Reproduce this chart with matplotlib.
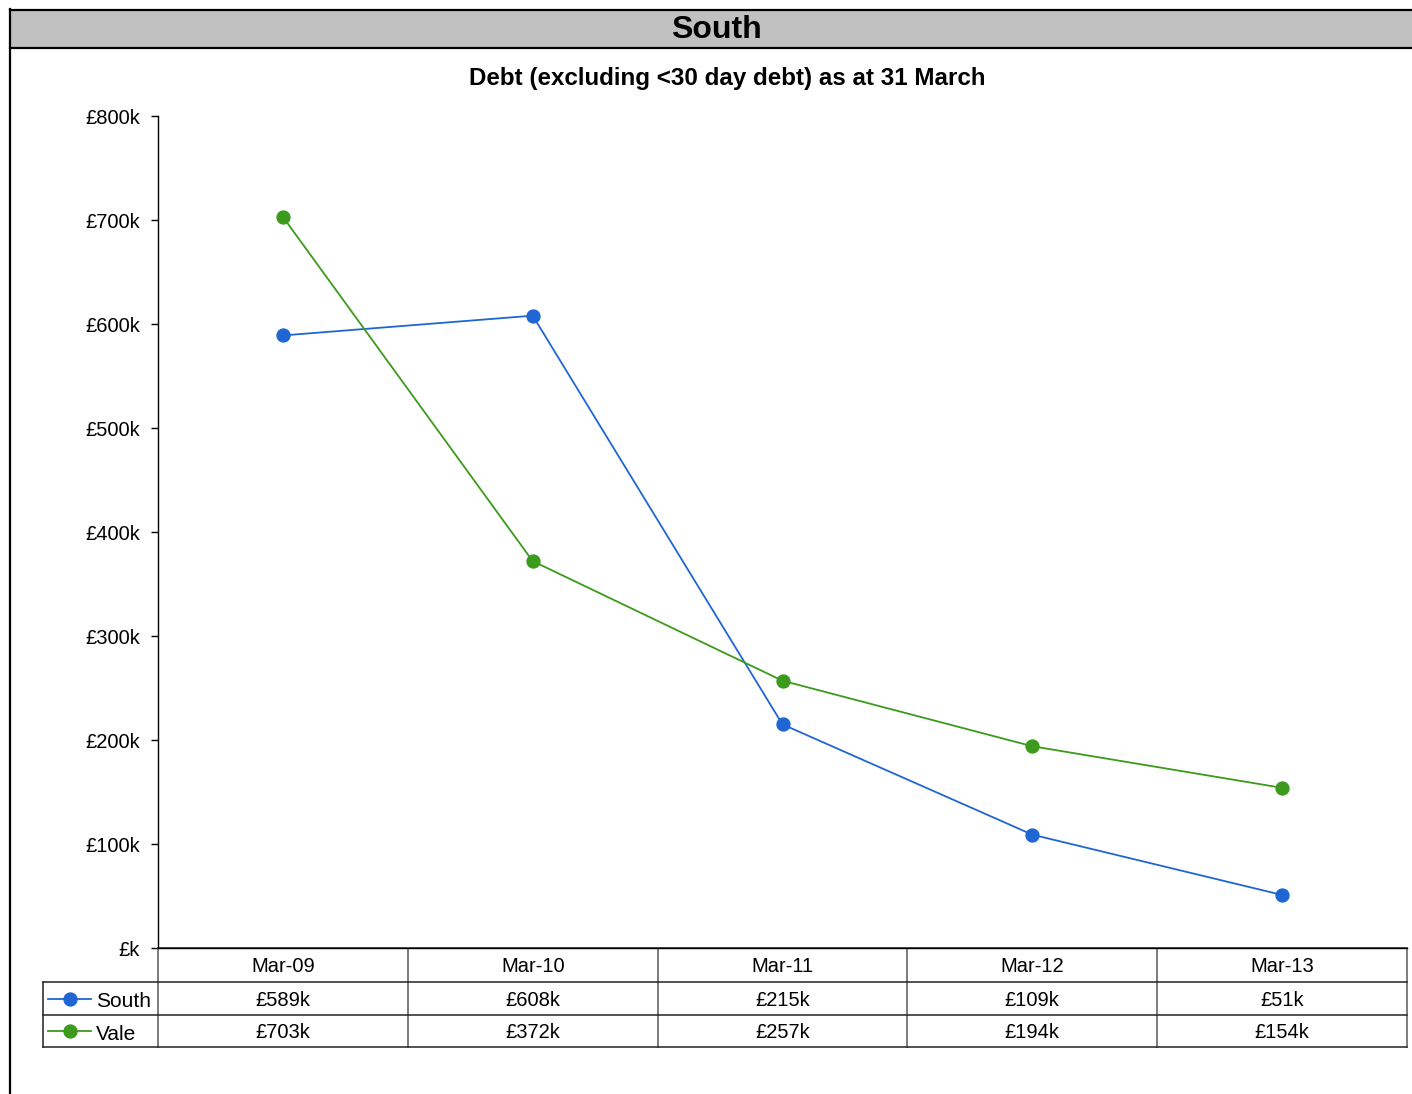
import matplotlib
matplotlib.use("Agg")
import matplotlib.pyplot as plt
from matplotlib.lines import Line2D
from matplotlib.patches import Rectangle
import matplotlib.transforms as mtransforms

plt.rcParams['font.family'] = ['Liberation Sans', 'DejaVu Sans']

# Data
categories = ["Mar-09", "Mar-10", "Mar-11", "Mar-12", "Mar-13"]
south = [589, 608, 215, 109, 51]   # £k
vale = [703, 372, 257, 194, 154]   # £k
series_names = ["South", "Vale"]
series_colors = ["#1F66D4", "#3C9A1C"]
yticks = [0, 100, 200, 300, 400, 500, 600, 700, 800]

W, H = 1412, 1094
fig = plt.figure(figsize=(W / 100, H / 100), dpi=100)


def fx(px):
    return px / W


def fy(py):
    return 1 - py / H


# Header band
fig.patches.append(Rectangle((fx(10), fy(48)), fx(W + 10) - fx(10), fy(10) - fy(48),
                             transform=fig.transFigure, facecolor="#C0C0C0",
                             edgecolor="none", zorder=0))
for y in (10, 48):
    fig.add_artist(Line2D([fx(10), 1.0], [fy(y), fy(y)], color="black", lw=1.6,
                          transform=fig.transFigure))
fig.add_artist(Line2D([fx(10), fx(10)], [fy(9), 0], color="black", lw=1.6,
                      transform=fig.transFigure))
fig.text(fx(716), fy(30), "South", ha="center", va="center", fontsize=23,
         fontweight="bold")

# Main axes
ax = fig.add_axes([fx(158), fy(948), fx(1407) - fx(158), fy(116) - fy(948)])
x = list(range(len(categories)))
for vals, name, col in zip([south, vale], series_names, series_colors):
    ax.plot(x, vals, color=col, lw=1.3, marker="o", markersize=9.3, label=name,
            zorder=3)

ax.set_xlim(-0.5, len(categories) - 0.5)
ax.set_ylim(0, 800)
ax.set_yticks(yticks)
ax.set_yticklabels([f"£{v}k" if v else "£k" for v in yticks], fontsize=14.5)
ax.set_xticks([])
ax.tick_params(axis="y", direction="out", length=5, width=1, pad=8)
for s in ("top", "right"):
    ax.spines[s].set_visible(False)
ax.spines["left"].set_linewidth(1)
ax.spines["bottom"].set_linewidth(1)
fig.text(fx(727), fy(78), "Debt (excluding <30 day debt) as at 31 March",
         ha="center", va="center", fontsize=17.4, fontweight="bold")

# Data table below the plot (x in data coords, y in figure pixels)
trans = mtransforms.blended_transform_factory(ax.transData, fig.transFigure)
row_edges = [948, 982, 1015, 1047]
grid_kw = dict(color="#222222", lw=1.1, clip_on=False)
ax.add_line(Line2D([-0.5, 4.5], [fy(948), fy(948)], transform=trans, **grid_kw))
for y in (982, 1015, 1047):
    fig.add_artist(Line2D([fx(43), fx(1407)], [fy(y), fy(y)], color="#222222",
                          lw=1.1, transform=fig.transFigure))
for i in range(len(categories) + 1):
    ax.add_line(Line2D([i - 0.5, i - 0.5], [fy(948), fy(1047)], transform=trans,
                       color="#666666", lw=1.2, clip_on=False))
fig.add_artist(Line2D([fx(43), fx(43)], [fy(982), fy(1047)], color="#222222",
                      lw=1.1, transform=fig.transFigure))

# header labels
for i, c in enumerate(categories):
    ax.text(i, fy(966), c, transform=trans, ha="center", va="center", fontsize=14.5)
# value rows
for r, (vals, name, col) in enumerate(zip([south, vale], series_names, series_colors)):
    yc = (row_edges[r + 1] + row_edges[r + 2]) / 2
    for i, v in enumerate(vals):
        ax.text(i, fy(yc + 1.5), f"£{v}k", transform=trans, ha="center",
                va="center", fontsize=14.5)
    fig.add_artist(Line2D([fx(48), fx(91)], [fy(yc), fy(yc)], color=col, lw=1.3,
                          transform=fig.transFigure))
    fig.add_artist(Line2D([fx(69.5)], [fy(yc)], color=col, marker="o",
                          markersize=9.3, linestyle="none",
                          transform=fig.transFigure))
    fig.text(fx(96), fy(yc + 3), name, ha="left", va="center", fontsize=15)

fig.savefig("out.png", dpi=100)
